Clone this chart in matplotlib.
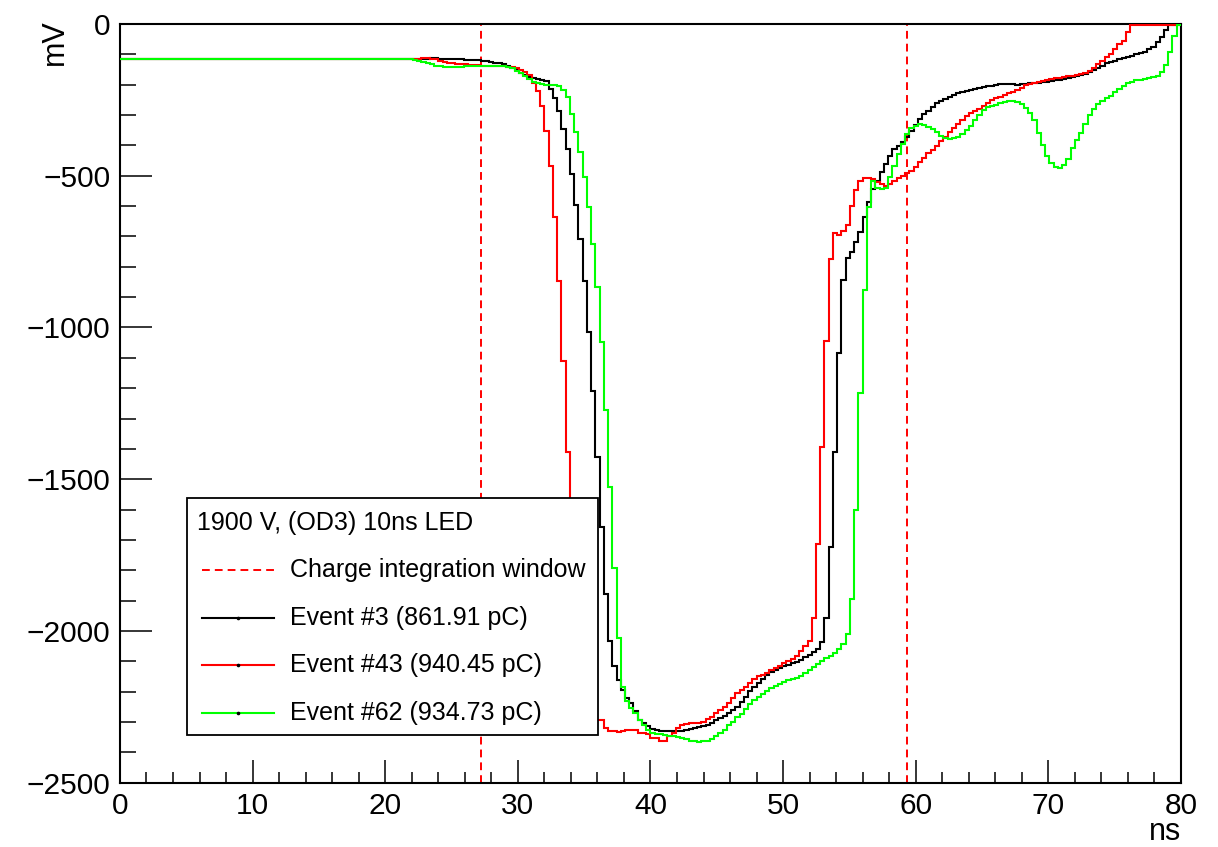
import matplotlib
matplotlib.use('Agg')
import matplotlib.pyplot as plt
import matplotlib.patches as patches
from matplotlib.ticker import MultipleLocator
import numpy as np

plt.rcParams['font.family'] = ['Liberation Sans', 'DejaVu Sans']

# Digitizer sample width (ns) and the three recorded waveforms (mV per sample)
BIN_NS = 0.32

black_mv = [
    -116, -115, -116, -117, -116, -115, -116, -116, -117, -116,
    -115, -116, -116, -115, -116, -117, -116, -116, -115, -116,
    -116, -117, -116, -115, -116, -116, -115, -116, -117, -116,
    -116, -115, -116, -116, -117, -116, -115, -116, -116, -115,
    -116, -117, -116, -116, -115, -116, -116, -117, -116, -115,
    -116, -116, -115, -116, -117, -116, -116, -115, -116, -116,
    -115, -116, -116, -117, -116, -115, -116, -116, -115, -115,
    -115, -114, -114, -113, -113, -114, -115, -115, -116, -116,
    -117, -118, -118, -119, -120, -121, -123, -125, -128, -130,
    -133, -137, -144, -152, -160, -168, -174, -179, -182, -185,
    -189, -214, -244, -286, -346, -412, -494, -595, -708, -846,
    -1015, -1209, -1427, -1658, -1878, -2034, -2116, -2161, -2194, -2220,
    -2237, -2265, -2292, -2304, -2314, -2323, -2327, -2329, -2329, -2330,
    -2329, -2329, -2329, -2326, -2323, -2319, -2315, -2312, -2309, -2302,
    -2294, -2286, -2279, -2271, -2261, -2251, -2234, -2217, -2199, -2184,
    -2171, -2159, -2144, -2135, -2127, -2121, -2116, -2111, -2107, -2101,
    -2095, -2087, -2079, -2068, -2060, -2038, -1957, -1724, -1410, -1085,
    -845, -770, -750, -719, -686, -637, -587, -544, -516, -489,
    -461, -434, -412, -401, -390, -374, -354, -332, -312, -298,
    -286, -272, -262, -254, -247, -240, -234, -228, -224, -220,
    -216, -213, -210, -207, -205, -203, -201, -199, -198, -198,
    -199, -200, -199, -197, -195, -194, -193, -192, -190, -188,
    -186, -184, -180, -177, -174, -171, -168, -165, -159, -152,
    -144, -137, -130, -125, -121, -116, -112, -108, -105, -100,
    -96, -91, -84, -77, -61, -44, -19, -3, -2, -1,
]

red_mv = [
    -116, -116, -115, -116, -117, -116, -116, -115, -116, -116,
    -117, -116, -115, -116, -116, -116, -117, -116, -115, -116,
    -116, -116, -115, -116, -117, -116, -116, -115, -116, -116,
    -117, -116, -116, -115, -116, -116, -116, -117, -116, -115,
    -116, -116, -115, -116, -117, -116, -116, -116, -115, -116,
    -117, -116, -116, -115, -116, -116, -117, -116, -115, -116,
    -116, -116, -115, -116, -116, -117, -116, -115, -115, -115,
    -114, -113, -112, -114, -117, -121, -125, -128, -130, -131,
    -132, -133, -134, -135, -136, -137, -138, -139, -139, -140,
    -140, -141, -141, -144, -152, -159, -169, -194, -220, -270,
    -352, -468, -636, -846, -1109, -1410, -1696, -1978, -2149, -2229,
    -2264, -2284, -2292, -2292, -2319, -2331, -2331, -2332, -2331, -2326,
    -2326, -2327, -2336, -2337, -2339, -2352, -2354, -2361, -2361, -2347,
    -2336, -2319, -2311, -2307, -2304, -2303, -2303, -2299, -2289, -2282,
    -2270, -2260, -2249, -2237, -2220, -2204, -2194, -2183, -2172, -2159,
    -2149, -2145, -2137, -2129, -2123, -2114, -2107, -2100, -2093, -2084,
    -2067, -2050, -2032, -1957, -1714, -1393, -1045, -774, -689, -694,
    -682, -662, -600, -546, -516, -509, -507, -512, -522, -527,
    -533, -526, -516, -508, -500, -492, -483, -470, -454, -440,
    -426, -414, -401, -386, -371, -357, -344, -331, -318, -302,
    -294, -286, -280, -270, -260, -252, -245, -240, -234, -229,
    -223, -216, -210, -202, -198, -194, -191, -188, -185, -182,
    -179, -177, -175, -173, -171, -168, -164, -160, -154, -144,
    -133, -122, -110, -99, -83, -66, -55, -28, -3, -2,
    -3, -2, -2, -3, -2, -2, -3, -2, -2, -2,
]

green_mv = [
    -116, -117, -116, -116, -115, -116, -117, -116, -116, -115,
    -116, -116, -117, -116, -115, -116, -116, -116, -117, -116,
    -115, -116, -116, -117, -116, -116, -115, -116, -116, -117,
    -116, -116, -115, -116, -117, -116, -116, -116, -115, -116,
    -117, -116, -116, -115, -116, -116, -117, -116, -116, -115,
    -116, -117, -116, -116, -115, -116, -116, -117, -116, -116,
    -115, -116, -116, -116, -117, -116, -116, -115, -116, -118,
    -121, -125, -129, -133, -137, -140, -142, -143, -142, -141,
    -141, -140, -140, -140, -139, -139, -139, -139, -139, -139,
    -139, -141, -146, -154, -162, -171, -181, -190, -196, -199,
    -200, -201, -202, -206, -216, -239, -297, -357, -423, -505,
    -604, -725, -868, -1049, -1271, -1527, -1791, -2023, -2183, -2232,
    -2254, -2270, -2292, -2309, -2326, -2336, -2339, -2341, -2343, -2345,
    -2347, -2349, -2353, -2357, -2361, -2364, -2365, -2364, -2361, -2355,
    -2347, -2336, -2326, -2311, -2299, -2284, -2272, -2257, -2242, -2227,
    -2217, -2207, -2197, -2189, -2181, -2175, -2169, -2163, -2159, -2154,
    -2147, -2139, -2129, -2119, -2109, -2099, -2089, -2081, -2071, -2059,
    -2042, -2011, -1895, -1602, -1215, -875, -604, -516, -542, -544,
    -539, -505, -467, -428, -394, -362, -344, -335, -330, -332,
    -339, -346, -357, -369, -377, -379, -377, -372, -364, -351,
    -335, -316, -299, -284, -275, -270, -266, -261, -257, -255,
    -255, -258, -264, -278, -292, -316, -359, -399, -434, -459,
    -472, -474, -464, -444, -409, -382, -359, -329, -299, -279,
    -264, -254, -245, -236, -225, -215, -205, -196, -190, -185,
    -183, -181, -179, -176, -170, -157, -134, -94, -39, -3,
]

# Charge integration window (ns)
window_start = 27.2
window_end = 59.35

header = "1900 V, (OD3) 10ns LED"
window_label = "Charge integration window"
event_labels = ["Event #3 (861.91 pC)", "Event #43 (940.45 pC)", "Event #62 (934.73 pC)"]
event_colors = ["#000000", "#ff0000", "#00ff00"]

fig = plt.figure(figsize=(12.18, 8.47), dpi=100)
ax = fig.add_axes([0.0985, 0.0759, 0.8711, 0.8958])

edges = np.arange(len(black_mv) + 1) * BIN_NS
for values, color in zip([black_mv, red_mv, green_mv], event_colors):
    ax.stairs(values, edges, baseline=None, color=color, linewidth=1.5, zorder=3)

dash = (0, (4.0, 2.6))
for t in (window_start, window_end):
    ax.axvline(t, color='#ff0000', linewidth=1.4, linestyle=dash, zorder=2)

ax.set_xlim(0, 80)
ax.set_ylim(-2500, 0)

# ROOT-like frame: inward ticks on left and bottom only
for side in ax.spines.values():
    side.set_linewidth(1.5)
ax.xaxis.set_major_locator(MultipleLocator(10))
ax.xaxis.set_minor_locator(MultipleLocator(2))
ax.yaxis.set_major_locator(MultipleLocator(500))
ax.yaxis.set_minor_locator(MultipleLocator(100))
ax.tick_params(axis='both', which='both', direction='in', width=1.1, labelsize=21.5,
               top=False, right=False)
ax.tick_params(axis='x', which='major', length=16.5, pad=6.5)
ax.tick_params(axis='x', which='minor', length=8)
ax.tick_params(axis='y', which='major', length=23, pad=7)
ax.tick_params(axis='y', which='minor', length=11.5)

ax.text(1.0, -0.076, "ns", transform=ax.transAxes, ha='right', va='baseline', fontsize=22)
ax.text(-0.0535, 1.006, "mV", transform=ax.transAxes, ha='right', va='baseline',
        rotation=90, rotation_mode='anchor', fontsize=22)

# Legend box
box = patches.Rectangle((0.0631, 0.0630), 0.3874, 0.3127, transform=ax.transAxes,
                        facecolor='white', edgecolor='black', linewidth=1.3, zorder=5)
ax.add_patch(box)
ax.text(0.0726, 0.3427, header, transform=ax.transAxes, ha='left', va='center',
        fontsize=18, zorder=6)

rows = [0.2801, 0.2174, 0.1547, 0.0920]
x0, x1, xt = 0.0770, 0.1451, 0.1602
ax.plot([x0, x1], [rows[0], rows[0]], transform=ax.transAxes, color='#ff0000',
        linewidth=1.4, linestyle=dash, zorder=6)
ax.text(xt, rows[0], window_label, transform=ax.transAxes, ha='left', va='center',
        fontsize=18, zorder=6)
for y, label, color in zip(rows[1:], event_labels, event_colors):
    ax.plot([x0, x1], [y, y], transform=ax.transAxes, color=color, linewidth=1.5, zorder=6)
    ax.plot([(x0 + x1) / 2], [y], transform=ax.transAxes, marker='o', markersize=1.6,
            color='black', zorder=7)
    ax.text(xt, y, label, transform=ax.transAxes, ha='left', va='center',
            fontsize=18, zorder=6)

fig.savefig('out.png', dpi=100)
plt.close(fig)
